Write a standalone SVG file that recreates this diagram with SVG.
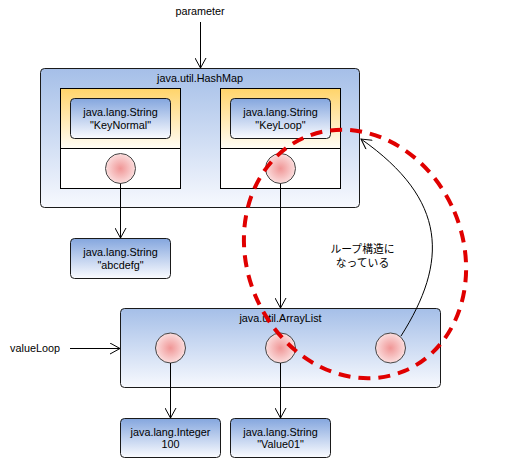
<svg xmlns="http://www.w3.org/2000/svg" width="506" height="459" viewBox="0 0 506 459">
<defs>
<linearGradient id="gBig" x1="0" y1="0" x2="0" y2="1"><stop offset="0" stop-color="#a5bfe8"/><stop offset="1" stop-color="#f7f9fe"/></linearGradient>
<linearGradient id="gStr" x1="0" y1="0" x2="0" y2="1"><stop offset="0" stop-color="#84a6de"/><stop offset="1" stop-color="#fbfcff"/></linearGradient>
<linearGradient id="gYel" x1="0" y1="0" x2="0" y2="1"><stop offset="0" stop-color="#ffd46a"/><stop offset="1" stop-color="#fffdf6"/></linearGradient>
<radialGradient id="gDot" cx="0.5" cy="0.5" r="0.5"><stop offset="0" stop-color="#f09696"/><stop offset="1" stop-color="#fbdede"/></radialGradient>
<marker id="arr" viewBox="0 0 12 12" refX="11" refY="6" markerWidth="12" markerHeight="12" markerUnits="userSpaceOnUse" orient="auto">
<path d="M1,0.5 L11,6 L1,11.5" fill="none" stroke="#000" stroke-width="1"/>
</marker>
</defs>
<style>
text{font-family:"Liberation Sans",Arial,sans-serif;font-size:10.8px;fill:#000;text-anchor:middle}
.big{fill:url(#gBig);stroke:#1a1a1a;stroke-width:1}
.str{fill:url(#gStr);stroke:#1a1a1a;stroke-width:1}
.yel{fill:url(#gYel);stroke:#000;stroke-width:1}
.wht{fill:#fff;stroke:#000;stroke-width:1}
.dot{fill:url(#gDot);stroke:#444;stroke-width:1}
.con{fill:none;stroke:#000;stroke-width:1;marker-end:url(#arr)}
.jp{font-family:"Liberation Sans","Noto Sans CJK JP",sans-serif}
</style>
<rect width="506" height="459" fill="#fff"/>

<g id="hashmap">
<rect class="big" x="40.5" y="68.5" width="319" height="139" rx="4"/>
<text x="200" y="82">java.util.HashMap</text>
</g>
<g id="entryNormal">
<rect class="yel" x="60.5" y="88.5" width="120" height="60"/>
<rect class="wht" x="60.5" y="148.5" width="120" height="40"/>
<circle class="dot" cx="120.5" cy="168.5" r="15"/>
</g>
<g id="keyNormal">
<rect class="str" x="70.5" y="98.5" width="100" height="40" rx="4"/>
<text x="120.5" y="116">java.lang.String</text>
<text x="120.5" y="129">"KeyNormal"</text>
</g>
<g id="entryLoop">
<rect class="yel" x="220.5" y="88.5" width="120" height="60"/>
<rect class="wht" x="220.5" y="148.5" width="120" height="40"/>
<circle class="dot" cx="280.5" cy="168.5" r="15"/>
</g>
<g id="keyLoop">
<rect class="str" x="230.5" y="98.5" width="100" height="40" rx="4"/>
<text x="280.5" y="116">java.lang.String</text>
<text x="280.5" y="129">"KeyLoop"</text>
</g>
<g id="abcdefg">
<rect class="str" x="70.5" y="238.5" width="100" height="40" rx="4"/>
<text x="120.5" y="256">java.lang.String</text>
<text x="120.5" y="268.5">"abcdefg"</text>
</g>
<g id="arraylist">
<rect class="big" x="120.5" y="308.5" width="320" height="79" rx="4"/>
<text x="280.5" y="321.5">java.util.ArrayList</text>
<circle class="dot" cx="170.5" cy="348" r="15"/>
<circle class="dot" cx="280.5" cy="348" r="15"/>
<circle class="dot" cx="390.5" cy="348" r="15"/>
</g>
<g id="integer">
<rect class="str" x="120.5" y="418.5" width="100" height="39" rx="4"/>
<text x="170.5" y="435.5">java.lang.Integer</text>
<text x="170.5" y="448">100</text>
</g>
<g id="value01">
<rect class="str" x="230.5" y="418.5" width="100" height="39" rx="4"/>
<text x="280.5" y="435.5">java.lang.String</text>
<text x="280.5" y="448">"Value01"</text>
</g>
<g id="labels">
<text x="200" y="15">parameter</text>
<text x="35" y="352">valueLoop</text>
<text class="jp" x="362.5" y="253">ループ構造に</text>
<text class="jp" x="362.5" y="267">なっている</text>
</g>

<g id="connectors">
<line class="con" x1="200.5" y1="22" x2="200.5" y2="68"/>
<line class="con" x1="120.5" y1="183.5" x2="120.5" y2="238"/>
<line class="con" x1="280.5" y1="183.5" x2="280.5" y2="308"/>
<line class="con" x1="70" y1="348.5" x2="120" y2="348.5"/>
<line class="con" x1="170.5" y1="363" x2="170.5" y2="418"/>
<line class="con" x1="280.5" y1="363" x2="280.5" y2="418"/>
<path class="con" d="M401,336 C448,262 448,200 361,139"/>
</g>

<g id="loopMark">
<ellipse cx="355" cy="254" rx="108" ry="127" transform="rotate(-23 355 254)" fill="none" stroke="#e00000" stroke-width="4" stroke-dasharray="12 8"/>
</g>
</svg>
